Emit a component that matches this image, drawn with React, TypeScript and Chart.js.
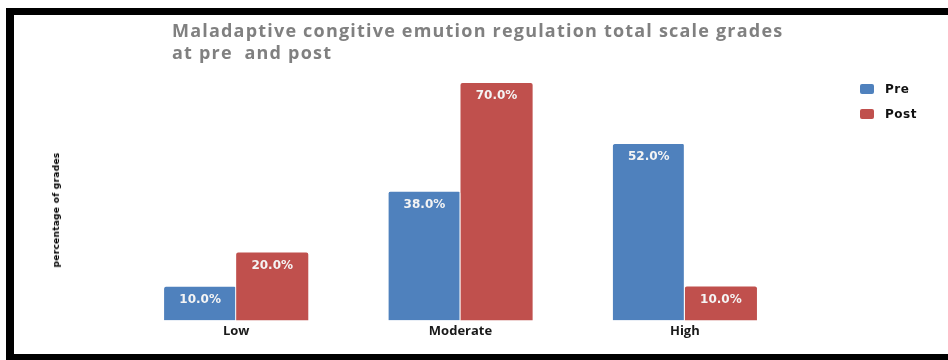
import React, { useEffect, useRef } from "react";
import { Chart, registerables } from "chart.js";

Chart.register(...registerables);

const categories = ["Low", "Moderate", "High"];
const preValues = [10, 38, 52];
const postValues = [20, 70, 10];
const seriesNames = ["Pre", "Post"];
const titleLines = ["Maladaptive congitive emution regulation total scale grades", "at pre  and post"];
const yAxisLabel = "percentage of grades";

const BLUE = "#4F81BD";
const RED = "#C0504D";

const labelPlugin = {
  id: "barLabels",
  afterDatasetsDraw(chart: any) {
    const ctx = chart.ctx;
    ctx.save();
    ctx.font = "bold 12px 'DejaVu Sans'";
    ctx.fillStyle = "#f4f4f4";
    ctx.textAlign = "center";
    ctx.textBaseline = "middle";
    chart.data.datasets.forEach((ds: any, di: number) => {
      const meta = chart.getDatasetMeta(di);
      meta.data.forEach((bar: any, i: number) => {
        const v = ds.data[i];
        ctx.fillText(v.toFixed(1) + "%", bar.x, bar.y + 13);
      });
    });
    ctx.restore();
  },
};

export default function App() {
  const ref = useRef<HTMLCanvasElement>(null);
  useEffect(() => {
    if (!ref.current) return;
    const chart = new Chart(ref.current, {
      type: "bar",
      data: {
        labels: categories,
        datasets: [
          {
            label: seriesNames[0],
            data: preValues,
            backgroundColor: BLUE,
            borderColor: "#ffffff",
            borderWidth: { right: 1, left: 0, top: 0, bottom: 0 },
            borderRadius: 2,
            borderSkipped: "bottom",
          },
          {
            label: seriesNames[1],
            data: postValues,
            backgroundColor: RED,
            borderWidth: 0,
            borderRadius: 2,
            borderSkipped: "bottom",
          },
        ],
      },
      options: {
        responsive: false,
        animation: false,
        layout: { padding: { left: 124, right: 151, top: 49, bottom: 18 } },
        plugins: { legend: { display: false }, tooltip: { enabled: false }, title: { display: false } },
        datasets: { bar: { barPercentage: 1, categoryPercentage: 0.643 } },
        scales: {
          x: {
            grid: { display: false, drawTicks: false },
            border: { display: false },
            ticks: { padding: 3, color: "#1a1a1a", font: { family: "'Open Sans'", weight: "bold", size: 13 } },
          },
          y: { display: false, min: 0, max: 80 },
        },
      },
      plugins: [labelPlugin],
    } as any);
    return () => chart.destroy();
  }, []);

  return (
    <div style={{ position: "fixed", left: 0, top: 0, width: 948, height: 360, background: "#fff", overflow: "hidden" }}>
      <div
        style={{
          position: "absolute",
          left: 6,
          top: 8,
          width: 1000,
          height: 352,
          boxSizing: "border-box",
          borderTop: "7px solid #000",
          borderLeft: "8px solid #000",
          borderBottom: "6px solid #000",
        }}
      />
      <canvas ref={ref} width={948} height={360} style={{ position: "absolute", left: 0, top: 0 }} />
      <div
        style={{
          position: "absolute",
          left: 172,
          top: 19,
          font: "bold 18px 'Open Sans'",
          color: "#808080",
          lineHeight: "22px",
          letterSpacing: "1.2px",
          whiteSpace: "pre",
        }}
      >
        {titleLines[0]}
        <br />
        {titleLines[1]}
      </div>
      <div style={{ position: "absolute", left: 860, top: 76, font: "bold 12px 'DejaVu Sans'", color: "#111", letterSpacing: "0.5px" }}>
        {seriesNames.map((n, i) => (
          <div key={n} style={{ display: "flex", alignItems: "center", height: 25 }}>
            <span style={{ display: "inline-block", width: 14, height: 10, borderRadius: 2, background: i === 0 ? BLUE : RED, marginRight: 11 }} />
            {n}
          </div>
        ))}
      </div>
      <div
        style={{
          position: "absolute",
          left: 56,
          top: 210,
          transform: "translate(-50%, -50%) rotate(-90deg)",
          font: "bold 9px 'DejaVu Sans'",
          color: "#000",
          whiteSpace: "nowrap",
          letterSpacing: "0.3px",
        }}
      >
        {yAxisLabel}
      </div>
    </div>
  );
}
